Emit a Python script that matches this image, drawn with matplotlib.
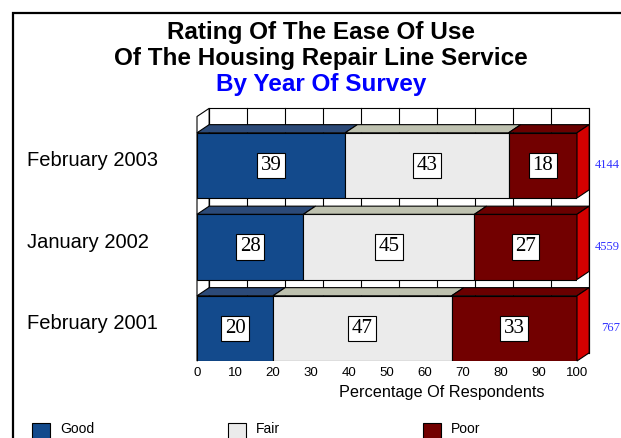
import numpy as np
import matplotlib.pyplot as plt
from matplotlib.patches import Polygon, Rectangle

surveys = ['February 2001', 'January 2002', 'February 2003']
good = [20, 28, 39]
fair = [47, 45, 43]
poor = [33, 27, 18]
respondents = [767, 4559, 4144]
ticks = np.arange(0, 101, 10)

names = ['Good', 'Fair', 'Poor']
front = ['#134A8C', '#EBEBEB', '#720000']
roof = ['#2C4A78', '#BEC1AF', '#6A0000']
side = '#D40000'

plt.rcParams['font.family'] = 'Liberation Sans'

W, H = 621, 438
fig = plt.figure(figsize=(W/100, H/100), dpi=100)

# outer frame
fig.add_artist(Rectangle((13/W, -0.1), 1.2, 1.1 - 13/H, transform=fig.transFigure,
                         fill=False, ec='black', lw=1.6))

fig.text(321/W, 1 - 33/H, 'Rating Of The Ease Of Use', ha='center', va='center',
         fontsize=17.5, fontweight='bold')
fig.text(321/W, 1 - 59/H, 'Of The Housing Repair Line Service', ha='center', va='center',
         fontsize=17.5, fontweight='bold')
fig.text(321/W, 1 - 85/H, 'By Year Of Survey', ha='center', va='center',
         fontsize=17.5, fontweight='bold', color='#0000FF')

ax = fig.add_axes([197/W, 77/H, 380/W, 244.5/H])
ax.set_xlim(0, 100)
ax.set_ylim(-0.4, 2.6)
for s in ax.spines.values():
    s.set_visible(False)
ax.patch.set_visible(False)
ax.set_yticks([])
ax.set_xticks(ticks)
ax.tick_params(axis='x', length=0, pad=4, labelsize=9.5)

h = 0.8          # bar thickness
dx, dy = 3.2, 0.1  # depth of the 3d look
y0, y1 = -0.4, 2.6

# back wall, side wall and grid
ax.add_patch(Rectangle((dx, y0 + dy), 100, y1 - y0, fc='white', ec='black', lw=0.8,
                       clip_on=False, zorder=1))
ax.add_patch(Polygon([(0, y0), (dx, y0 + dy), (dx, y1 + dy), (0, y1)], closed=True,
                     fc='white', ec='black', lw=0.8, clip_on=False, zorder=1))
for t in ticks:
    ax.plot([t + dx, t + dx], [y0 + dy, y1 + dy], color='black', lw=0.8,
            clip_on=False, zorder=1.5)

ypos = np.arange(len(surveys))
series = [good, fair, poor]
lefts = np.zeros(len(surveys))
for k, vals in enumerate(series):
    ax.barh(ypos, vals, left=lefts, height=h, color=front[k], ec='black', lw=0.8, zorder=3)
    for i, v in enumerate(vals):
        a, b = lefts[i], lefts[i] + v
        yt = ypos[i] + h/2
        ax.add_patch(Polygon([(a, yt), (b, yt), (b + dx, yt + dy), (a + dx, yt + dy)],
                             closed=True, fc=roof[k], ec='black', lw=0.8,
                             clip_on=False, zorder=3))
        ax.text(a + v/2, ypos[i], str(v), ha='center', va='center', zorder=5,
                fontfamily='Liberation Serif', fontsize=15,
                bbox=dict(boxstyle='square,pad=0.16', fc='white', ec='black', lw=0.8))
    lefts = lefts + np.array(vals)

# right side of each bar
for i in range(len(surveys)):
    yb = ypos[i] - h/2
    ax.add_patch(Polygon([(lefts[i], yb), (lefts[i] + dx, yb + dy),
                          (lefts[i] + dx, yb + h + dy), (lefts[i], yb + h)],
                         closed=True, fc=side, ec='black', lw=0.8, clip_on=False, zorder=3))
    ax.text(111.3, ypos[i], str(respondents[i]), ha='right', va='center', color='#3333FF',
            fontfamily='Liberation Serif', fontsize=9)
    ax.text(-44.7, ypos[i] + 0.055, surveys[i], ha='left', va='center', fontsize=14.5)

fig.text(442/W, 1 - 392/H, 'Percentage Of Respondents', ha='center', va='center', fontsize=11.7)

# legend along the bottom
for x, name, c in zip([32, 228, 423], names, front):
    fig.add_artist(Rectangle((x/W, 1 - 441/H), 18/W, 18/H, transform=fig.transFigure,
                             fc=c, ec='black', lw=0.8))
    fig.text((x + 28)/W, 1 - 429/H, name, ha='left', va='center', fontsize=10)

fig.savefig('out.png', dpi=100)
